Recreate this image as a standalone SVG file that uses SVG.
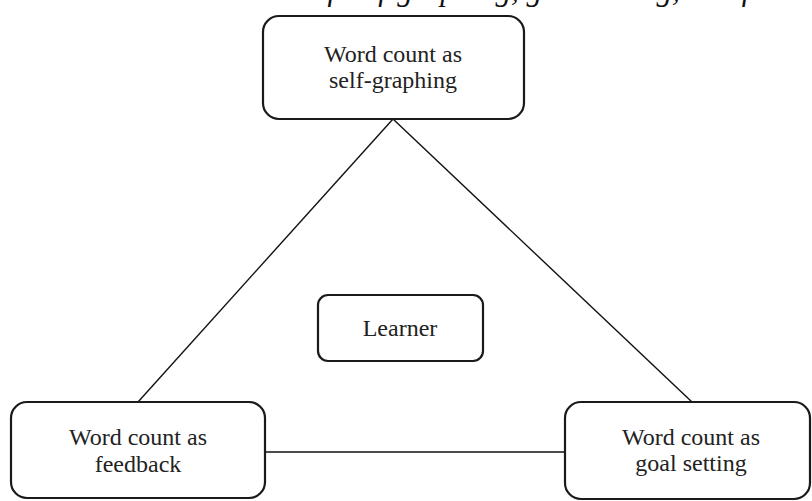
<svg xmlns="http://www.w3.org/2000/svg" width="812" height="501" viewBox="0 0 812 501">
<style>
.box{fill:#ffffff;stroke:#1a1a1a;stroke-width:2.2}
.lbl{font-family:"Liberation Serif","Times New Roman",serif;font-size:24px;fill:#222;text-anchor:middle}
.cap{font-family:"Liberation Serif","Times New Roman",serif;font-size:31px;font-style:italic;fill:#111}
.conn{stroke:#111;stroke-width:1.4;fill:none}
</style>
<rect width="812" height="501" fill="#ffffff"/>
<text class="cap" x="312" y="0">of self-graphing, goal setting, and feedback</text>
<g id="connectors">
<line class="conn" x1="393" y1="119" x2="138" y2="402"/>
<line class="conn" x1="393" y1="119" x2="692" y2="402"/>
<line class="conn" x1="265" y1="452" x2="565" y2="452"/>
</g>
<g id="node-self-graphing">
<rect class="box" x="263" y="16" width="261" height="103" rx="16"/>
<text class="lbl" x="393" y="62">Word count as</text>
<text class="lbl" x="393" y="88">self-graphing</text>
</g>
<g id="node-learner">
<rect class="box" x="318" y="295" width="165" height="66" rx="10"/>
<text class="lbl" x="400" y="336">Learner</text>
</g>
<g id="node-feedback">
<rect class="box" x="11" y="402" width="254" height="96" rx="16"/>
<text class="lbl" x="138" y="445">Word count as</text>
<text class="lbl" x="138" y="472">feedback</text>
</g>
<g id="node-goal-setting">
<rect class="box" x="565" y="402" width="245" height="97" rx="16"/>
<text class="lbl" x="691" y="445">Word count as</text>
<text class="lbl" x="691" y="471">goal setting</text>
</g>
</svg>
